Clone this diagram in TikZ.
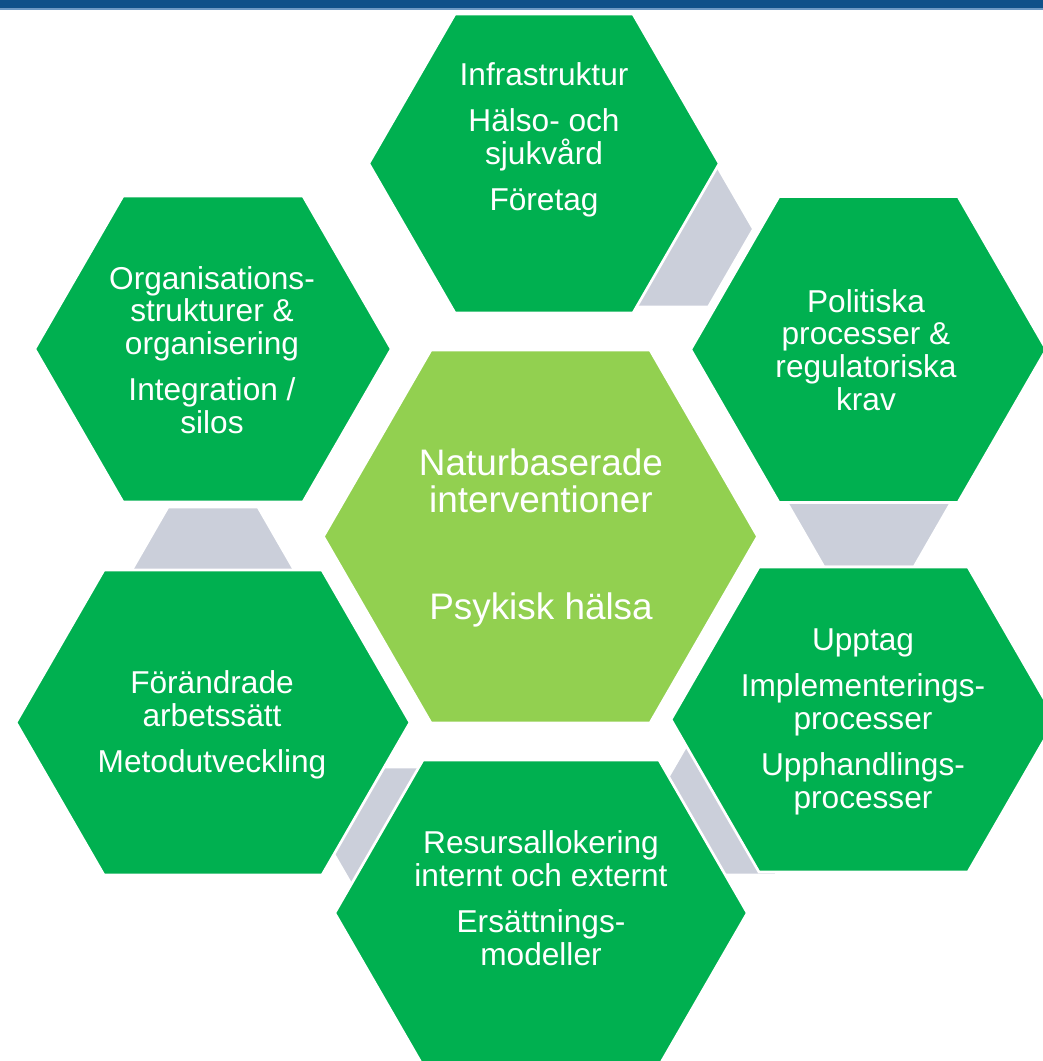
\documentclass[tikz,border=0pt]{standalone}
\usepackage{fontspec}
\setmainfont{Liberation Sans}

\definecolor{hexgreen}{HTML}{00B050}
\definecolor{hexlime}{HTML}{92D050}
\definecolor{linkgray}{HTML}{CBCFDA}
\definecolor{bardark}{HTML}{0F5189}
\definecolor{barlight}{HTML}{6E9AC4}

\tikzset{
  hexbox/.style={fill=hexgreen, draw=white, line width=1.5pt},
  hexcore/.style={fill=hexlime, draw=white, line width=1.5pt},
  linkbox/.style={fill=linkgray, draw=white, line width=1.5pt},
  hextext/.style={text=white, align=center, font=\fontsize{18}{18.7}\selectfont},
  coretext/.style={text=white, align=center, font=\fontsize{21}{21.2}\selectfont},
}

\begin{document}
\begin{tikzpicture}
  [
    x=0.02cm, y=-0.02cm,
  ]

  \useasboundingbox (0,0) rectangle (1043,1061);
  \clip (0,0) rectangle (1043,1061);

  % top bar
  \fill [bardark] (0,0) rectangle (1043,8);
  \fill [barlight] (0,8) rectangle (1043,10);

  % links
  \foreach \ang in {0,60,-60,-120,180} {
    \filldraw [linkbox, rotate around={\ang:(541,537)}]
      (786,501) -- (952,501) -- (914,567) -- (824,567) -- cycle;
  }

  % outer hexagons
  \foreach \cx/\cy/\a/\h in {544/163.5/89/149.5, 868.5/349.5/89.5/153,
      863.5/719.5/104.5/152.5, 541/913/118/153, 213/722.5/109/152.5,
      213/349/90/153} {
    \filldraw [hexbox] (\cx-\a-0.577*\h, \cy) -- (\cx-\a, \cy-\h)
      -- (\cx+\a, \cy-\h) -- (\cx+\a+0.577*\h, \cy)
      -- (\cx+\a, \cy+\h) -- (\cx-\a, \cy+\h) -- cycle;
  }

  % core hexagon
  \def\cx{540.5}
  \def\cy{536.5}
  \def\a{109.5}
  \def\h{186.5}
  \filldraw [hexcore] (\cx-\a-0.577*\h, \cy) -- (\cx-\a, \cy-\h)
    -- (\cx+\a, \cy-\h) -- (\cx+\a+0.577*\h, \cy)
    -- (\cx+\a, \cy+\h) -- (\cx-\a, \cy+\h) -- cycle;

  % labels
  \node [hextext] (infra) at (544,140) {Infrastruktur\\[7.4pt] Hälso- och\\ sjukvård\\[7.4pt] Företag};
  \node [hextext] (politik) at (866,350) {Politiska\\ processer \&\\ regulatoriska\\ krav};
  \node [hextext] (upptag) at (863,722) {Upptag\\[7.4pt] Implementerings-\\ processer\\[7.4pt] Upphandlings-\\ processer};
  \node [hextext] (resurs) at (541,898) {Resursallokering\\ internt och externt\\[7.4pt] Ersättnings-\\ modeller};
  \node [hextext] (metod) at (212,725) {Förändrade\\ arbetssätt\\[7.4pt] Metodutveckling};
  \node [hextext] (organ) at (212,350) {Organisations-\\ strukturer \&\\ organisering\\[7.4pt] Integration /\\ silos};
  \node [coretext] (natur) at (541,538) {Naturbaserade\\ interventioner\\[40pt] Psykisk hälsa};

\end{tikzpicture}
\end{document}
